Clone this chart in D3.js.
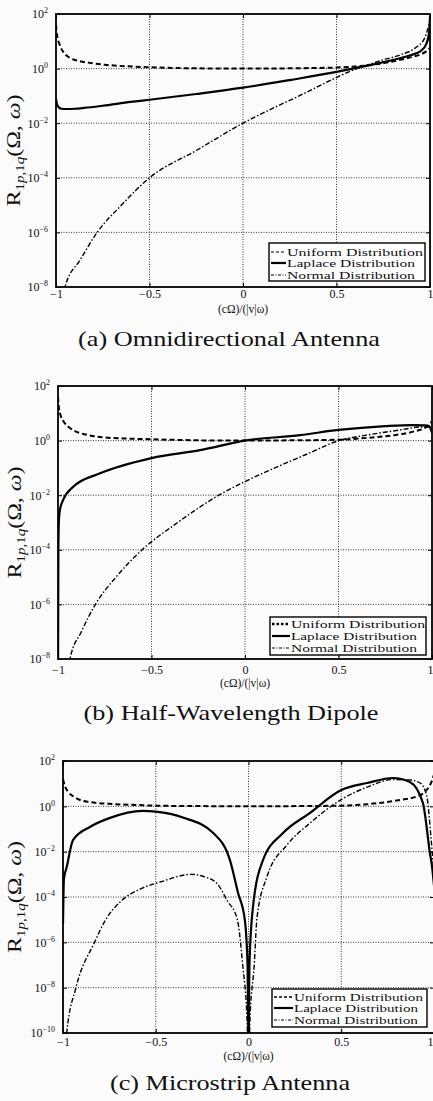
<!DOCTYPE html>
<html>
<head>
<meta charset="utf-8">
<script src="https://cdn.jsdelivr.net/npm/d3@7"></script>
<style>
  body { margin: 0; background: #fbfbfb; }
  text { font-family: "Liberation Serif", "Times New Roman", serif; fill: #111; }
</style>
</head>
<body>
<svg width="433" height="1101"></svg>
<script>
// values: [x, log10 R]
var aUniform = [[-1,1.6],[-0.995,1.25],[-0.98,0.87],[-0.96,0.6],[-0.925,0.39],[-0.88,0.28],[-0.82,0.21],
  [-0.74,0.14],[-0.66,0.1],[-0.5,0.05],[-0.25,0.01],[0,0],[0.25,0.01],[0.5,0.04],[0.6,0.08],[0.68,0.13],
  [0.76,0.21],[0.84,0.32],[0.9,0.42],[0.95,0.52],[0.98,0.63],[1,0.76]];
var aLaplace = [[-1,-1.1],[-0.995,-1.3],[-0.985,-1.42],[-0.97,-1.47],[-0.94,-1.48],[-0.9,-1.47],[-0.85,-1.44],
  [-0.75,-1.36],[-0.6,-1.22],[-0.5,-1.14],[-0.25,-0.93],[0,-0.7],[0.25,-0.42],[0.5,-0.12],[0.6,0.02],
  [0.68,0.13],[0.76,0.25],[0.84,0.38],[0.9,0.5],[0.95,0.64],[0.98,0.9],[0.995,1.3],[1,1.9]];
var aNormal = [[-0.96,-8.6],[-0.952,-8],[-0.87,-7],[-0.78,-6],[-0.65,-5],[-0.5,-4],[-0.25,-3],[0,-2],
  [0.3,-1],[0.61,0],[0.74,0.3],[0.84,0.5],[0.92,0.75],[0.97,1.1],[1,1.75]];

var bUniform = [[-1,1.6],[-0.995,1.2],[-0.985,0.9],[-0.97,0.7],[-0.936,0.46],[-0.9,0.32],[-0.85,0.22],
  [-0.775,0.13],[-0.65,0.08],[-0.5,0.05],[-0.25,0.01],[0,0],[0.25,0.01],[0.5,0.03],[0.65,0.1],[0.8,0.2],
  [0.9,0.33],[0.97,0.5],[1,0.7]];
var bLaplace = [[-1,-9],[-0.998,-4],[-0.995,-2.9],[-0.99,-2.55],[-0.973,-2.18],[-0.92,-1.7],[-0.775,-1.2],
  [-0.5,-0.64],[-0.24,-0.35],[0,0],[0.294,0.2],[0.5,0.39],[0.75,0.53],[0.893,0.57],[0.96,0.56],
  [0.984,0.53],[1,0.3]];
var bNormal = [[-0.95,-8.6],[-0.936,-8],[-0.875,-7],[-0.8,-6],[-0.69,-5],[-0.55,-4],[-0.36,-3],
  [-0.14,-2],[0,-1.5],[0.16,-1],[0.33,-0.5],[0.503,0],[0.65,0.2],[0.83,0.39],[0.94,0.5],[0.98,0.5],[1,0.45]];

var cUniform = [[-1,1.2],[-0.99,0.9],[-0.97,0.62],[-0.94,0.42],[-0.908,0.28],[-0.85,0.18],[-0.75,0.11],
  [-0.6,0.06],[-0.5,0.03],[-0.25,0.01],[0,0],[0.25,0.01],[0.5,0.03],[0.65,0.1],[0.817,0.28],[0.9,0.42],
  [0.95,0.63],[0.99,1.15],[1,1.4]];
var cLaplace = [[-1,-5.2],[-0.995,-3.2],[-0.98,-2.68],[-0.946,-1.49],[-0.855,-0.91],[-0.75,-0.52],
  [-0.57,-0.2],[-0.5,-0.23],[-0.35,-0.5],[-0.19,-1.18],[-0.1,-2.37],[-0.057,-3.8],[-0.02,-5],
  [-0.005,-7],[0,-11],[0.005,-7],[0.024,-4.45],[0.078,-2.37],[0.186,-1.18],[0.33,-0.3],[0.5,0.72],
  [0.64,1.03],[0.78,1.25],[0.87,1.07],[0.94,0.15],[0.978,-2.06],[0.99,-2.7],[1,-3.5]];
var cNormal = [[-0.985,-10.5],[-0.98,-10],[-0.93,-8],[-0.83,-6],[-0.77,-5],[-0.69,-4.2],[-0.57,-3.6],
  [-0.46,-3.3],[-0.36,-3.05],[-0.31,-3],[-0.24,-3.1],[-0.17,-3.4],[-0.116,-4.14],[-0.06,-5],
  [-0.03,-7.1],[-0.01,-9],[0,-11],[0.01,-9],[0.03,-7.1],[0.046,-4.9],[0.1,-3.1],[0.208,-1.7],
  [0.33,-0.75],[0.5,0.3],[0.64,0.85],[0.78,1.18],[0.87,1.16],[0.925,1.03],[0.96,0.5],[0.985,-1.5],[1,-3]];

var seriesNames = ["Uniform Distribution", "Laplace Distribution", "Normal Distribution"];
var captions = ["(a) Omnidirectional Antenna", "(b) Half-Wavelength Dipole", "(c) Microstrip Antenna"];
var xTicks = [-1, -0.5, 0, 0.5, 1];
var xTickLabels = ["\u22121", "\u22120.5", "0", "0.5", "1"];
var xLabel = "(c\u03a9)/(|v|\u03c9)";

var svg = d3.select("svg");

var panels = [
  {key: "a", data: [aUniform, aLaplace, aNormal], caption: captions[0],
   left: 56, right: 430, top: 14, bottom: 287, minExp: -8,
   tickY: 298, labY: 313, capX: 229, capY: 346, capLen: 302, ylabX: 20,
   leg: {x: 269, y: 243, w: 156, h: 38, tx: 287, rows: [256, 267, 279], lens: [136, 128, 128]},
   uni: {w: 1, d: "3,2"}},
  {key: "b", data: [bUniform, bLaplace, bNormal], caption: captions[1],
   left: 58, right: 432, top: 386, bottom: 659, minExp: -8,
   tickY: 674, labY: 687, capX: 231, capY: 720, capLen: 295, ylabX: 21,
   leg: {x: 270, y: 617, w: 156, h: 38, tx: 291, rows: [628, 640, 652], lens: [134, 126, 126]},
   uni: {w: 2.6, d: "2.5,2"}},
  {key: "c", data: [cUniform, cLaplace, cNormal], caption: captions[2],
   left: 63, right: 434, top: 761, bottom: 1033, minExp: -10,
   tickY: 1046, labY: 1060, capX: 230, capY: 1090, capLen: 240, ylabX: 21,
   leg: {x: 272, y: 989, w: 155, h: 38, tx: 294, rows: [1001, 1012, 1024], lens: [129, 124, 124]},
   uni: {w: 1.5, d: "3,2"}}
];

var styles = [
  {w: 2, d: "5,3"},
  {w: 2.2, d: null},
  {w: 1.4, d: "5,2,1.5,2"}
];

panels.forEach(function(p) {
  var x = d3.scaleLinear().domain([-1, 1]).range([p.left, p.right]);
  var y = d3.scaleLog().domain([Math.pow(10, p.minExp), 100]).range([p.bottom, p.top]);
  var yTicks = d3.range(p.minExp, 3, 2).map(function(e) { return Math.pow(10, e); });
  var g = svg.append("g");

  svg.append("clipPath").attr("id", "clip-" + p.key)
    .append("rect")
      .attr("x", p.left).attr("y", p.top)
      .attr("width", p.right - p.left).attr("height", p.bottom - p.top);

  // grid
  g.append("g").selectAll("line")
    .data(xTicks.slice(1, -1))
    .join("line")
      .attr("x1", x).attr("x2", x)
      .attr("y1", p.top).attr("y2", p.bottom)
      .attr("stroke", "#222").attr("stroke-width", 0.9).attr("stroke-dasharray", "1,1.5");
  g.append("g").selectAll("line")
    .data(yTicks.slice(1, -1))
    .join("line")
      .attr("x1", p.left).attr("x2", p.right)
      .attr("y1", y).attr("y2", y)
      .attr("stroke", "#222").attr("stroke-width", 0.9).attr("stroke-dasharray", "1,1.5");

  // curves
  var line = d3.line()
    .x(function(d) { return x(d[0]); })
    .y(function(d) { return y(Math.pow(10, d[1])); })
    .curve(d3.curveMonotoneX);

  g.append("g").attr("clip-path", "url(#clip-" + p.key + ")")
    .selectAll("path")
    .data(p.data)
    .join("path")
      .attr("d", line)
      .attr("fill", "none")
      .attr("stroke", "#000")
      .attr("stroke-width", function(d, i) { return styles[i].w; })
      .attr("stroke-dasharray", function(d, i) { return styles[i].d; });

  // axes
  var ax = g.append("g")
      .attr("transform", "translate(0," + p.bottom + ")")
      .call(d3.axisBottom(x).tickValues(xTicks)
        .tickFormat(function(d, i) { return xTickLabels[i]; })
        .tickSize(-4).tickPadding(p.tickY - p.bottom - 8.5));
  ax.select(".domain").remove();
  ax.selectAll("text").attr("font-family", "Liberation Serif").attr("font-size", 12);
  // the last label sits at the page edge, keep it inside
  ax.selectAll("text").filter(function(d) { return d == 1; })
      .attr("text-anchor", "end").attr("x", 433 - p.right);

  var ax2 = g.append("g")
      .attr("transform", "translate(0," + p.top + ")")
      .call(d3.axisTop(x).tickValues(xTicks).tickSize(-4).tickFormat(""));
  ax2.select(".domain").remove();

  var ay = g.append("g")
      .attr("transform", "translate(" + p.left + ",0)")
      .call(d3.axisLeft(y).tickValues(yTicks).tickSize(-4).tickPadding(8));
  ay.select(".domain").remove();
  ay.selectAll(".tick text")
      .attr("font-family", "Liberation Serif").attr("font-size", 12)
      .text("10")
    .append("tspan")
      .attr("dy", -5).attr("font-size", 8)
      .text(function(d) {
        var e = Math.round(Math.log10(d));
        return e < 0 ? "\u2212" + (-e) : "" + e;
      });

  var ay2 = g.append("g")
      .attr("transform", "translate(" + p.right + ",0)")
      .call(d3.axisRight(y).tickValues(yTicks).tickSize(-4).tickFormat(""));
  ay2.select(".domain").remove();

  g.append("rect")
      .attr("x", p.left).attr("y", p.top)
      .attr("width", p.right - p.left).attr("height", p.bottom - p.top)
      .attr("fill", "none").attr("stroke", "#000").attr("stroke-width", 1.8);

  // legend
  var lg = g.append("g");
  lg.append("rect")
      .attr("x", p.leg.x).attr("y", p.leg.y)
      .attr("width", p.leg.w).attr("height", p.leg.h)
      .attr("fill", "#fff").attr("stroke", "#000").attr("stroke-width", 1.4);
  var rows = lg.selectAll("g.row")
    .data(seriesNames)
    .join("g").attr("class", "row");
  rows.append("line")
      .attr("x1", p.leg.x + 2).attr("x2", p.leg.tx - 1)
      .attr("y1", function(d, i) { return p.leg.rows[i] - 4; })
      .attr("y2", function(d, i) { return p.leg.rows[i] - 4; })
      .attr("stroke", "#000")
      .attr("stroke-width", function(d, i) { return i == 0 ? p.uni.w : (i == 1 ? 2.2 : 1); })
      .attr("stroke-dasharray", function(d, i) { return i == 0 ? p.uni.d : (i == 1 ? null : "3,1.5,1,1.5"); });
  rows.append("text")
      .attr("x", p.leg.tx)
      .attr("y", function(d, i) { return p.leg.rows[i]; })
      .attr("font-size", 11)
      .attr("textLength", function(d, i) { return p.leg.lens[i]; })
      .attr("lengthAdjust", "spacingAndGlyphs")
      .text(function(d) { return d; });

  // x label
  g.append("text")
      .attr("x", x(0)).attr("y", p.labY)
      .attr("text-anchor", "middle").attr("font-size", 11.5)
      .text(xLabel);

  // y label
  var yl = g.append("text")
      .attr("transform", "translate(" + p.ylabX + "," + ((p.top + p.bottom) / 2) + ") rotate(-90)")
      .attr("text-anchor", "middle").attr("font-size", 19)
      .attr("textLength", 112).attr("lengthAdjust", "spacingAndGlyphs");
  yl.append("tspan").text("R");
  yl.append("tspan").attr("font-size", 12).attr("dy", 4).text("1");
  yl.append("tspan").attr("font-size", 12).attr("font-style", "italic").text("p");
  yl.append("tspan").attr("font-size", 12).text(",1");
  yl.append("tspan").attr("font-size", 12).attr("font-style", "italic").text("q");
  yl.append("tspan").attr("dy", -4).text("(\u03a9, ");
  yl.append("tspan").attr("font-style", "italic").text("\u03c9");
  yl.append("tspan").text(")");

  // caption
  g.append("text")
      .attr("x", p.capX).attr("y", p.capY)
      .attr("text-anchor", "middle").attr("font-size", 22)
      .attr("textLength", p.capLen).attr("lengthAdjust", "spacingAndGlyphs")
      .text(p.caption);
});
</script>
</body>
</html>
